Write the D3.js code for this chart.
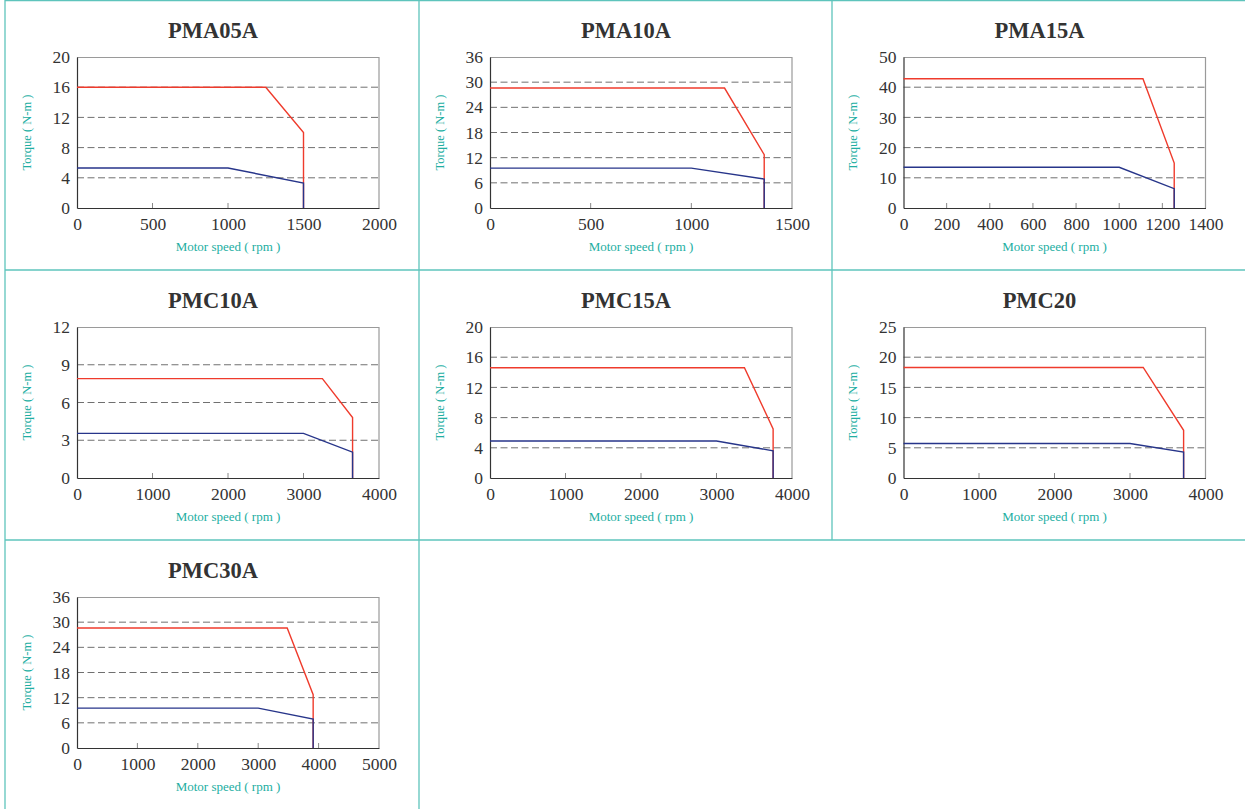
<!DOCTYPE html>
<html><head><meta charset="utf-8">
<script src="https://cdn.jsdelivr.net/npm/d3@7"></script>
<style>
html,body{margin:0;padding:0;background:#fff;}
svg{display:block;}
</style></head>
<body>
<svg id="c" width="1245" height="809"></svg>
<script>
// ---- data ----
const titles = ["PMA05A","PMA10A","PMA15A","PMC10A","PMC15A","PMC20","PMC30A"];
const xMax = [2000,1500,1400,4000,4000,4000,5000];
const xStep = [500,500,200,1000,1000,1000,1000];
const yMax = [20,36,50,12,20,25,36];
const yStep = [4,6,10,3,4,5,6];
// peak (red) curves: [speed, torque]
const redPMA05A = [[0,16],[1250,16],[1500,10],[1500,0]];
const redPMA10A = [[0,28.6],[1165,28.6],[1362,12.7],[1362,0]];
const redPMA15A = [[0,42.8],[1110,42.8],[1255,14.9],[1255,0]];
const redPMC10A = [[0,7.9],[3250,7.9],[3650,4.8],[3650,0]];
const redPMC15A = [[0,14.6],[3370,14.6],[3750,6.5],[3750,0]];
const redPMC20  = [[0,18.3],[3175,18.3],[3710,7.9],[3710,0]];
const redPMC30A = [[0,28.6],[3480,28.6],[3910,12.7],[3910,0]];
// continuous (blue) curves
const bluePMA05A = [[0,5.3],[1000,5.3],[1500,3.3],[1500,0]];
const bluePMA10A = [[0,9.5],[1000,9.5],[1362,6.9],[1362,0]];
const bluePMA15A = [[0,13.5],[1000,13.5],[1255,6.4],[1255,0]];
const bluePMC10A = [[0,3.55],[3000,3.55],[3650,2.05],[3650,0]];
const bluePMC15A = [[0,4.9],[3000,4.9],[3750,3.6],[3750,0]];
const bluePMC20  = [[0,5.7],[3000,5.7],[3710,4.3],[3710,0]];
const bluePMC30A = [[0,9.5],[3000,9.5],[3910,6.9],[3910,0]];
const reds = [redPMA05A,redPMA10A,redPMA15A,redPMC10A,redPMC15A,redPMC20,redPMC30A];
const blues = [bluePMA05A,bluePMA10A,bluePMA15A,bluePMC10A,bluePMC15A,bluePMC20,bluePMC30A];
const xTitle = "Motor speed ( rpm )";
const yTitle = "Torque ( N-m )";

// ---- drawing ----
const svg = d3.select("#c");
const teal = "#5ec4bc";
const labTeal = "#22aea2";
const serif = "'Liberation Serif','Times New Roman',serif";

// cell borders
const borders = [
  [5,0.5,1245,0.5],[5,0,5,809],[419,0,419,809],[832,0,832,540],
  [5,270,1245,270],[5,540,1245,540]
];
svg.selectAll("line.border").data(borders).join("line")
  .attr("x1",d=>d[0]).attr("y1",d=>d[1]).attr("x2",d=>d[2]).attr("y2",d=>d[3])
  .attr("stroke",teal).attr("stroke-width",1.3);

const colX = [0,413,826.5], rowY = [0,270,540];
const W = 302, H = 151;

titles.forEach((t,i)=>{
  const cx = colX[i%3], cy = rowY[Math.floor(i/3)];
  const g = svg.append("g").attr("transform",`translate(${cx+77},${cy+57})`);
  const x = d3.scaleLinear().domain([0,xMax[i]]).range([0,W]);
  const y = d3.scaleLinear().domain([0,yMax[i]]).range([H,0]);
  const xt = d3.range(0,xMax[i]+1e-9,xStep[i]);
  const yt = d3.range(0,yMax[i]+1e-9,yStep[i]);

  // title
  svg.append("text").attr("x",cx+77+W/2-15).attr("y",cy+37.5)
    .attr("text-anchor","middle").attr("font-family",serif).attr("font-weight","bold")
    .attr("font-size",22.5).attr("fill","#333").text(t);

  // grid (dashed), excluding 0 and max
  g.selectAll("line.grid").data(yt.filter(v=>v>0 && v<yMax[i])).join("line")
    .attr("x1",0).attr("x2",W).attr("y1",d=>y(d)).attr("y2",d=>y(d))
    .attr("stroke","#707070").attr("stroke-width",1).attr("stroke-dasharray","7,3.5");

  // frame top/right
  g.append("path").attr("d",`M0,0.5H${W}V${H}`).attr("fill","none")
    .attr("stroke","#9a9a9a").attr("stroke-width",1.2);

  // x axis
  const xa = g.append("g").attr("transform",`translate(0,${H})`)
    .call(d3.axisBottom(x).tickValues(xt).tickSize(0).tickPadding(9.5).tickFormat(d3.format("d")));
  xa.select(".domain").attr("stroke","#333").attr("stroke-width",1.2);
  xa.selectAll("text").attr("font-family",serif).attr("font-size",17.5).attr("fill","#333");
  // inner ticks
  g.selectAll("line.xtick").data(xt.filter(v=>v>0 && v<xMax[i])).join("line")
    .attr("x1",d=>x(d)).attr("x2",d=>x(d)).attr("y1",H).attr("y2",H-5)
    .attr("stroke","#888").attr("stroke-width",1);

  // y axis
  const ya = g.append("g")
    .call(d3.axisLeft(y).tickValues(yt).tickSize(0).tickPadding(7).tickFormat(d3.format("d")));
  ya.select(".domain").attr("stroke","#333").attr("stroke-width",1.2);
  ya.selectAll("text").attr("font-family",serif).attr("font-size",17.5).attr("fill","#333");

  const line = d3.line().x(d=>x(d[0])).y(d=>y(d[1]));
  g.append("path").datum(reds[i]).attr("d",line).attr("fill","none")
    .attr("stroke","#ef3b2c").attr("stroke-width",1.4);
  g.append("path").datum(blues[i]).attr("d",line).attr("fill","none")
    .attr("stroke","#27358a").attr("stroke-width",1.4);

  // axis titles
  svg.append("text").attr("x",cx+77+W/2).attr("y",cy+251)
    .attr("text-anchor","middle").attr("font-family",serif).attr("font-size",13)
    .attr("fill",labTeal).text(xTitle);
  svg.append("text").attr("transform",`translate(${cx+30.5},${cy+57+H/2}) rotate(-90)`)
    .attr("text-anchor","middle").attr("font-family",serif).attr("font-size",12.5)
    .attr("fill",labTeal).text(yTitle);
});
</script>
</body></html>
